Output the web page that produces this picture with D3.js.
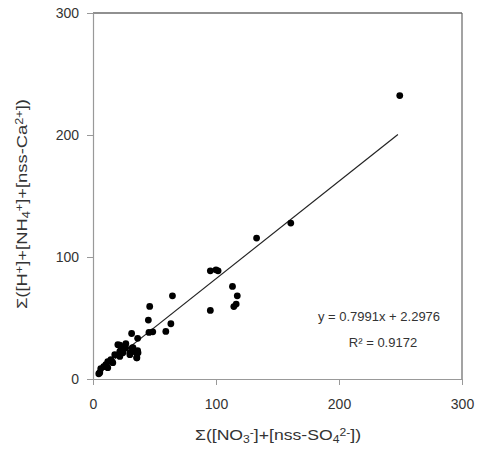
<!DOCTYPE html>
<html>
<head>
<meta charset="utf-8">
<script src="https://cdn.jsdelivr.net/npm/d3@7"></script>
<style>
  body { margin: 0; background: #fff; }
  svg { font-family: "Liberation Sans", Arial, sans-serif; }
</style>
</head>
<body>
<div id="chart"></div>
<script>
// anion sum (x) vs cation sum (y)
const xVals = [4.7, 5.5, 6.3, 8.7, 12, 10.4, 14.5, 12, 16.1, 17.7, 21.8, 24.3, 20.2, 22.6, 26.7,
  30, 32.5, 34.1, 36.6, 35.7, 31.4, 36.3, 21.8, 26.5, 31.9, 36.3, 30, 35.5, 21.8,
  45.5, 48.6, 59.2, 63.3, 45, 46.1, 64.6, 95.4, 100, 101.7, 113.4, 117.3, 116.4,
  114.5, 95.4, 133, 160.8, 249.4];
const yVals = [4.3, 5.2, 8.4, 10.1, 9.3, 11.7, 15.8, 14.2, 13.4, 19.9, 18.5, 21.5, 28.1, 26.5, 28.9,
  21.5, 25.6, 22.4, 21.5, 17.4, 37.3, 33.3, 27.8, 25.4, 25.4, 23.2, 19.9, 17.4, 22.6,
  38.2, 38.7, 39, 45.3, 48.3, 59.5, 68.2, 88.7, 89.5, 88.7, 75.9, 68.2, 61.4,
  59.4, 56.2, 115.5, 127.8, 232.3];
const xTicks = [0, 100, 200, 300];
const yTicks = [0, 100, 200, 300];
const slope = 0.7991, intercept = 2.2976, r2 = 0.9172;

const width = 480, height = 453;
const margin = { top: 13, right: 18, bottom: 74, left: 93 };

const svg = d3.select("#chart").append("svg")
  .attr("width", width).attr("height", height);

const x = d3.scaleLinear().domain([0, 300]).range([margin.left, width - margin.right]);
const y = d3.scaleLinear().domain([0, 300]).range([height - margin.bottom, margin.top]);

// frame top + right
svg.append("line")
  .attr("x1", x(0)).attr("x2", x(300)).attr("y1", y(300)).attr("y2", y(300))
  .attr("stroke", "#222").attr("stroke-width", 1.2);
svg.append("line")
  .attr("x1", x(300)).attr("x2", x(300)).attr("y1", y(300)).attr("y2", y(0))
  .attr("stroke", "#666").attr("stroke-width", 1.2);

const xAxis = svg.append("g")
  .attr("transform", `translate(0,${y(0)})`)
  .call(d3.axisBottom(x).tickValues(xTicks).tickSize(6).tickPadding(14).tickSizeOuter(0));
const yAxis = svg.append("g")
  .attr("transform", `translate(${x(0)},0)`)
  .call(d3.axisLeft(y).tickValues(yTicks).tickSize(6).tickPadding(8).tickSizeOuter(0));

[xAxis, yAxis].forEach(g => {
  g.select(".domain").attr("stroke", "#999").attr("stroke-width", 1.2);
  g.selectAll(".tick line").attr("stroke", "#999");
  g.selectAll(".tick text")
    .attr("fill", "#333")
    .style("font-size", "14px")
    .style("font-family", "'Liberation Sans', Arial, sans-serif");
});

// trend line
const xMin = d3.min(xVals), xMax = d3.max(xVals) - 1.5;
svg.append("line")
  .attr("x1", x(xMin)).attr("y1", y(slope * xMin + intercept))
  .attr("x2", x(xMax)).attr("y2", y(slope * xMax + intercept))
  .attr("stroke", "#222").attr("stroke-width", 1.2);

// points
svg.append("g").selectAll("circle")
  .data(xVals.map((v, i) => [v, yVals[i]]))
  .join("circle")
  .attr("cx", d => x(d[0]))
  .attr("cy", d => y(d[1]))
  .attr("r", 3.4)
  .attr("fill", "#000");

// equation
svg.append("text")
  .attr("x", 379).attr("y", 321)
  .attr("text-anchor", "middle")
  .attr("fill", "#333")
  .style("font-size", "13px")
  .text(`y = ${slope}x + ${intercept}`);
svg.append("text")
  .attr("x", 383).attr("y", 347)
  .attr("text-anchor", "middle")
  .attr("fill", "#333")
  .style("font-size", "13px")
  .text(`R² = ${r2}`);

// axis titles with sub/superscripts
function richText(sel, parts) {
  parts.forEach(p => {
    const t = sel.append("tspan").text(p.t);
    if (p.s === "sub") t.attr("baseline-shift", "-30%").style("font-size", "10px");
    if (p.s === "sup") t.attr("baseline-shift", "45%").style("font-size", "10px");
  });
}

const xTitle = svg.append("text")
  .attr("x", 278).attr("y", 440)
  .attr("text-anchor", "middle")
  .attr("fill", "#333")
  .style("font-size", "14.5px");
richText(xTitle, [
  { t: "Σ([NO" }, { t: "3", s: "sub" }, { t: "-", s: "sup" },
  { t: "]+[nss-SO" }, { t: "4", s: "sub" }, { t: "2-", s: "sup" }, { t: "])" }
]);
xTitle.attr("textLength", 166).attr("lengthAdjust", "spacingAndGlyphs");

const yTitle = svg.append("text")
  .attr("transform", "translate(27,204) rotate(-90)")
  .attr("text-anchor", "middle")
  .attr("fill", "#333")
  .style("font-size", "14.5px");
richText(yTitle, [
  { t: "Σ([H" }, { t: "+", s: "sup" }, { t: "]+[NH" }, { t: "4", s: "sub" }, { t: "+", s: "sup" },
  { t: "]+[nss-Ca" }, { t: "2+", s: "sup" }, { t: "])" }
]);
yTitle.attr("textLength", 210).attr("lengthAdjust", "spacingAndGlyphs");
</script>
</body>
</html>
